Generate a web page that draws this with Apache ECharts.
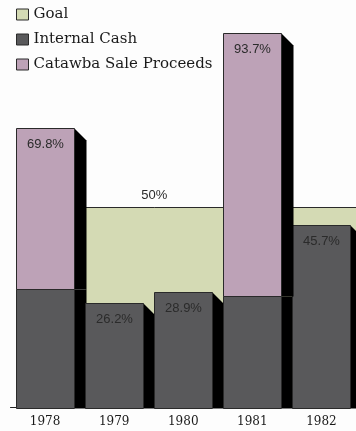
<!DOCTYPE html>
<html><head><meta charset="utf-8">
<script src="https://cdn.jsdelivr.net/npm/echarts@6/dist/echarts.min.js"></script>
<style>html,body{margin:0;padding:0;background:#fdfdfd}#c{width:356px;height:431px}</style>
</head><body><div id="c"></div>
<script>
var years = ['1978','1979','1980','1981','1982'];
var internalCash = [29.6, 26.2, 28.9, 27.9, 45.7];
var catawba = [40.2, null, null, 65.8, null];
var totalLabels = ['69.8%','26.2%','28.9%','93.7%','45.7%'];
var goalValue = 50;
var goalLabel = '50%';
var goalStart = '1979';

var chart = echarts.init(document.getElementById('c'));
var n = years.length;
var goalStartIdx = years.indexOf(goalStart);
var cGreen = '#d4dab4', cDark = '#59595b', cPink = '#bda2b7', cEdge = '#2a2a2a';

// rows: [categoryIndex, segmentValue, stackBase, isTopSegment]
var icRows = internalCash.map(function(v,i){ return [i, v, 0, catawba[i]==null ? 1 : 0]; });
var caRows = [];
catawba.forEach(function(v,i){ if (v!=null) caRows.push([i, v, internalCash[i], 1]); });

function makeRender(color) {
  return function(params, api) {
    var i = api.value(0), v = api.value(1), b = api.value(2), isTop = api.value(3);
    var pT = api.coord([i, b+v]), pB = api.coord([i, b]);
    var w = 58, sh = 12;
    var xl = Math.round(pT[0]-w/2)+0.5, xr = xl + w;
    var yt = Math.round(pT[1])+0.5, yb = Math.round(pB[1])+0.5;
    var kids = [
      {type:'polygon', shape:{points: isTop ? [[xr,yt],[xr+sh,yt+sh],[xr+sh,yb],[xr,yb]] : [[xr,yt],[xr+sh,yt],[xr+sh,yb],[xr,yb]]},
       style:{fill:'#000'}},
      {type:'rect', shape:{x:xl, y:yt, width:w, height:yb-yt}, style:{fill:color, stroke:cEdge, lineWidth:1}}
    ];
    if (isTop) {
      kids.push({type:'text', style:{text: totalLabels[i], x: xl + w/2, y: yt + 9, align:'center', verticalAlign:'top',
        font:'13px "Liberation Sans"', fill:'#2b2b2b'}});
    }
    return {type:'group', children:kids};
  };
}

chart.setOption({
  backgroundColor:'#fdfdfd',
  animation:false,
  legend:{
    orient:'vertical', left:16, top:7, padding:0, itemWidth:12, itemHeight:11, itemGap:10,
    textStyle:{fontFamily:'DejaVu Serif', fontSize:15, color:'#1a1a1a'},
    data:[
      {name:'Goal', icon:'rect', itemStyle:{color:cGreen, borderColor:cEdge, borderWidth:1}},
      {name:'Internal Cash', icon:'rect', itemStyle:{color:cDark, borderColor:cEdge, borderWidth:1}},
      {name:'Catawba Sale Proceeds', icon:'rect', itemStyle:{color:cPink, borderColor:cEdge, borderWidth:1}}
    ]
  },
  grid:{left:10.5, top:7.5, width:350, height:400},
  xAxis:[
    {type:'category', data:years, axisTick:{show:false},
     axisLine:{lineStyle:{color:'#222', width:1}},
     axisLabel:{fontFamily:'DejaVu Serif', fontSize:12, color:'#1a1a1a', margin:8}},
    {type:'value', min:0, max:n, show:false}
  ],
  yAxis:{type:'value', min:0, max:100, show:false},
  series:[
    {name:'Goal', type:'line', xAxisIndex:1, z:1, symbol:'circle', symbolSize:0, showSymbol:true,
     lineStyle:{color:cEdge, width:1}, itemStyle:{color:cGreen},
     areaStyle:{color:cGreen, opacity:1},
     data:[[goalStartIdx+0.08, goalValue],
           {value:[goalStartIdx+1.08, goalValue], label:{show:true, position:'top', distance:6, formatter:goalLabel,
             fontFamily:'Liberation Sans', fontSize:13, color:'#2b2b2b'}},
           [n, goalValue]]},
    {name:'Internal Cash', type:'custom', z:3, itemStyle:{color:cDark}, renderItem:makeRender(cDark),
     encode:{x:0, y:1}, data:icRows},
    {name:'Catawba Sale Proceeds', type:'custom', z:3, itemStyle:{color:cPink}, renderItem:makeRender(cPink),
     encode:{x:0, y:1}, data:caRows}
  ]
});
</script></body></html>
